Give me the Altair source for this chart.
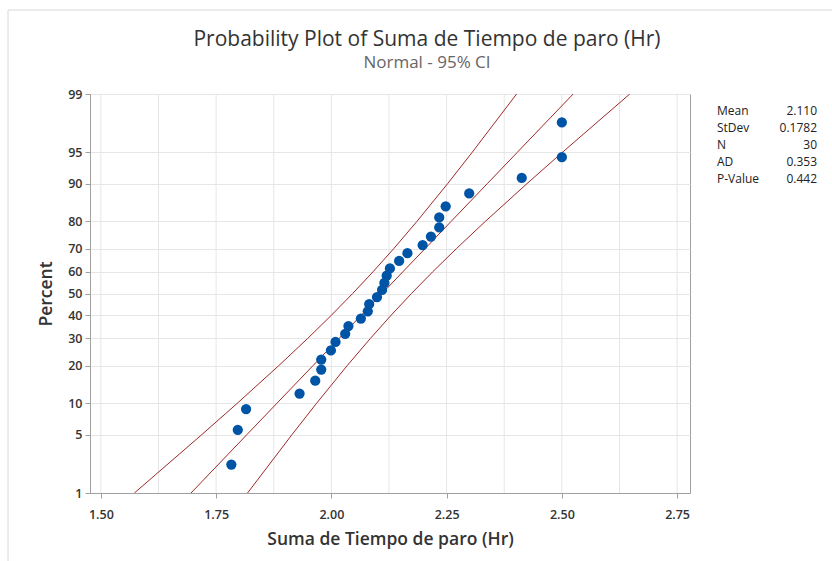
import altair as alt
import pandas as pd
from statistics import NormalDist

nd = NormalDist()

values = [1.783, 1.797, 1.815, 1.931, 1.965, 1.978, 1.978, 1.999, 2.009, 2.030,
          2.037, 2.064, 2.079, 2.082, 2.099, 2.110, 2.115, 2.120, 2.127, 2.147,
          2.165, 2.198, 2.216, 2.234, 2.234, 2.248, 2.299, 2.413, 2.500, 2.500]
# Plotting positions (percent)
percent = [2.30, 5.59, 8.88, 12.17, 15.46, 18.75, 22.04, 25.33, 28.62, 31.91,
           35.20, 38.49, 41.78, 45.07, 48.36, 51.64, 54.93, 58.22, 61.51, 64.80,
           68.09, 71.38, 74.67, 77.96, 81.25, 84.54, 87.83, 91.12, 94.41, 97.70]

# Fitted line and 95% CI bands at these percents
band_pcts = [1, 5, 10, 20, 30, 40, 50, 60, 70, 80, 90, 95, 99]
fit_x = [1.6955, 1.8169, 1.8816, 1.9600, 2.0166, 2.0649, 2.1100, 2.1551, 2.2035,
         2.2600, 2.3384, 2.4031, 2.5245]
lower_x = [1.5727, 1.7191, 1.7956, 1.8858, 1.9486, 2.0001, 2.0462, 2.0904, 2.1355,
           2.1858, 2.2523, 2.3053, 2.4018]
upper_x = [1.8182, 1.9147, 1.9677, 2.0342, 2.0846, 2.1296, 2.1738, 2.2199, 2.2715,
           2.3342, 2.4244, 2.5009, 2.6473]

# Axis ticks
y_tick_pcts = [1, 5, 10, 20, 30, 40, 50, 60, 70, 80, 90, 95, 99]
x_ticks = [1.50, 1.75, 2.00, 2.25, 2.50, 2.75]
x_grid = [1.500, 1.625, 1.750, 1.875, 2.000, 2.125, 2.250, 2.375, 2.500, 2.625, 2.750]

# Titles
title_text = "Probability Plot of Suma de Tiempo de paro (Hr)"
subtitle_text = "Normal - 95% CI"

# Stats box
stat_names = ["Mean", "StDev", "N", "AD", "P-Value"]
stat_values = ["2.110", "0.1782", "30", "0.353", "0.442"]

def z(p):
    return nd.inv_cdf(p / 100.0)

pts = pd.DataFrame({"x": values, "z": [z(p) for p in percent]})
rows = []
for name, xs in [("lower", lower_x), ("fit", fit_x), ("upper", upper_x)]:
    for p, xv in zip(band_pcts, xs):
        rows.append({"series": name, "x": xv, "z": z(p), "p": p})
lines = pd.DataFrame(rows)
grid = pd.DataFrame({"g": x_grid})

y_vals = [z(p) for p in y_tick_pcts]
label_expr = ""
for p, zv in zip(y_tick_pcts, y_vals):
    label_expr += f"abs(datum.value - ({zv:.5f})) < 0.001 ? '{p}' : "
label_expr += "''"

FONT = "Open Sans"
xscale = alt.Scale(domain=[1.4764, 2.778], nice=False, zero=False)
yscale = alt.Scale(domain=[z(1), z(99)], nice=False, zero=False)

xaxis = alt.Axis(values=x_ticks, format=".2f", grid=False, title="Suma de Tiempo de paro (Hr)",
                 titlePadding=10, labelPadding=10)
yaxis = alt.Axis(values=y_vals, labelExpr=label_expr, grid=True, gridColor="#e6e6e6",
                 title="Percent", titlePadding=12, labelPadding=3)

grid_layer = alt.Chart(grid).mark_rule(color="#e6e6e6", strokeWidth=1).encode(
    x=alt.X("g:Q", scale=xscale, axis=xaxis)
)

line_layer = alt.Chart(lines).mark_line(color="#a02828", strokeWidth=1, clip=True).encode(
    x=alt.X("x:Q", scale=xscale, axis=xaxis),
    y=alt.Y("z:Q", scale=yscale, axis=yaxis),
    detail="series:N",
    order="p:Q",
)

pt_layer = alt.Chart(pts).mark_circle(color="#0054a6", size=105, opacity=1).encode(
    x=alt.X("x:Q", scale=xscale, axis=xaxis),
    y=alt.Y("z:Q", scale=yscale, axis=yaxis),
)

stat_df = pd.DataFrame({"names": ["\n".join(stat_names)], "vals": ["\n".join(stat_values)]})
names_layer = alt.Chart(stat_df).mark_text(
    align="left", baseline="alphabetic", lineBreak="\n", lineHeight=17,
    font=FONT, fontSize=12, color="#222"
).encode(text="names:N", x=alt.value(627), y=alt.value(21))
vals_layer = alt.Chart(stat_df).mark_text(
    align="right", baseline="alphabetic", lineBreak="\n", lineHeight=17,
    font=FONT, fontSize=12, color="#222"
).encode(text="vals:N", x=alt.value(727), y=alt.value(21))

title_df = pd.DataFrame({"t": [title_text], "s": [subtitle_text]})
title_layer = alt.Chart(title_df).mark_text(
    align="center", baseline="middle", font=FONT, fontSize=21, color="#333333"
).encode(text="t:N", x=alt.value(337), y=alt.value(-54))
subtitle_layer = alt.Chart(title_df).mark_text(
    align="center", baseline="middle", font=FONT, fontSize=17, color="#666666"
).encode(text="s:N", x=alt.value(337), y=alt.value(-31))

frame_layer = alt.Chart(pd.DataFrame({"a": [0]})).mark_rect(
    fillOpacity=0, stroke="#d8d8d8", strokeWidth=1, clip=False
).encode(x=alt.value(-82), x2=alt.value(760), y=alt.value(-84), y2=alt.value(520))

chart = alt.layer(
    frame_layer, grid_layer, line_layer, pt_layer, names_layer, vals_layer,
    title_layer, subtitle_layer
).properties(
    width=600,
    height=399,
    padding={"left": 90, "top": 94, "right": 142, "bottom": 68},
    autosize=alt.AutoSizeParams(type="none"),
    background="white",
).configure_view(
    stroke="#a0a0a0", strokeWidth=1
).configure_axis(
    domainColor="#a0a0a0", tickColor="#a0a0a0", tickSize=5,
    labelFont=FONT, labelFontSize=12.5, labelColor="#333333", labelFontWeight=600,
    titleFont=FONT, titleFontSize=17.5, titleColor="#333333", titleFontWeight=600,
)

chart.save("out.html", embed_options={"renderer": "svg", "actions": False})
